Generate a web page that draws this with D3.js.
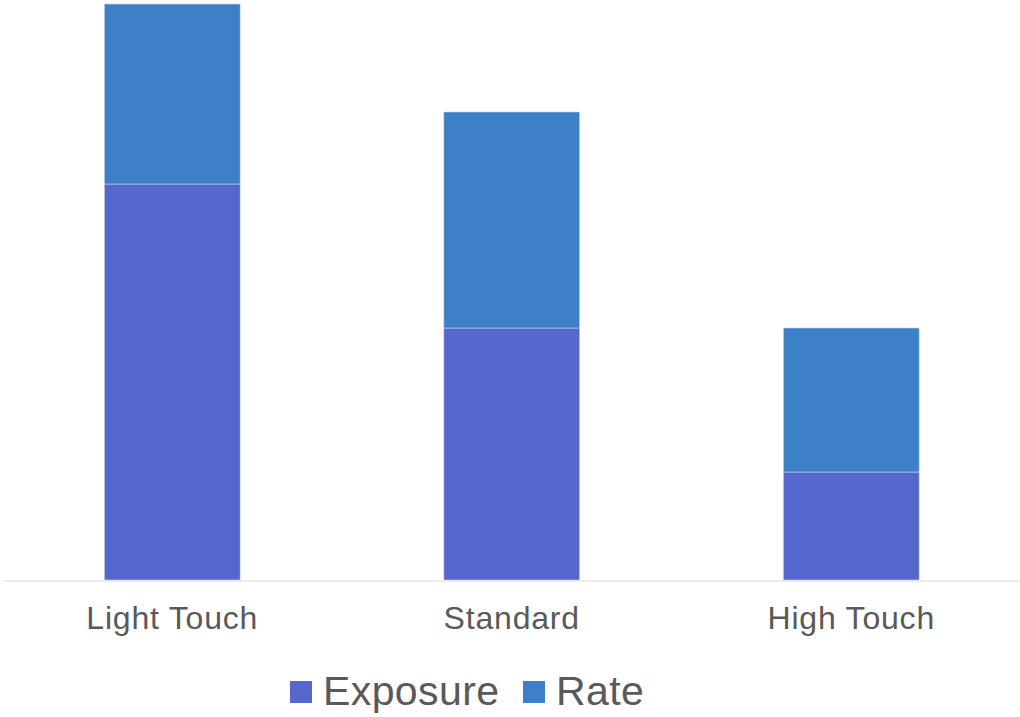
<!DOCTYPE html>
<html>
<head>
<meta charset="utf-8">
<script src="https://cdn.jsdelivr.net/npm/d3@7"></script>
<style>
  body { margin: 0; background: #fff; }
  text { font-family: "Liberation Sans", Arial, sans-serif; fill: #595959; }
</style>
</head>
<body>
<div id="chart"></div>
<script>
// data
const categories = ["Light Touch", "Standard", "High Touch"];
const seriesNames = ["Exposure", "Rate"];
const exposure = [11, 7, 3];
const rate = [5, 6, 4];

const colors = ["#5567cc", "#3e80c8"];

const width = 1020, height = 717;

const svg = d3.select("#chart").append("svg")
    .attr("width", width)
    .attr("height", height);

// scales
const x = d3.scaleBand()
    .domain(categories)
    .range([2.5, 1021])
    .paddingInner(0.6)
    .paddingOuter(0.3);

const y = d3.scaleLinear()
    .domain([0, 16])
    .range([580, 4]);

const table = categories.map((c, i) => ({ cat: c, Exposure: exposure[i], Rate: rate[i] }));
const stacked = d3.stack().keys(seriesNames)(table);

// bars
svg.selectAll("g.series")
    .data(stacked)
    .enter()
    .append("g")
    .attr("class", "series")
    .attr("fill", (d, i) => colors[i])
    .selectAll("rect")
    .data(d => d)
    .enter()
    .append("rect")
    .attr("x", d => x(d.data.cat))
    .attr("y", d => y(d[1]))
    .attr("width", x.bandwidth())
    .attr("height", d => y(d[0]) - y(d[1]))
    .attr("stroke", "#c9d6f0")
    .attr("stroke-width", 0.6);

// baseline axis
const xAxis = svg.append("g")
    .attr("transform", `translate(0, ${y(0) + 0.5})`)
    .call(d3.axisBottom(x).tickSize(0).tickPadding(26));

xAxis.select(".domain").attr("stroke", "#d9d9d9").attr("stroke-width", 1.2);
xAxis.selectAll(".tick text")
    .style("font-size", "32px")
    .style("letter-spacing", "0.8px")
    .attr("fill", "#595959");

// legend
const legend = svg.append("g").attr("transform", "translate(290, 681)");
const items = [{ name: "Exposure", x: 0 }, { name: "Rate", x: 233 }];
items.forEach((it, i) => {
    legend.append("rect")
        .attr("x", it.x)
        .attr("y", 0)
        .attr("width", 22)
        .attr("height", 22)
        .attr("fill", colors[i]);
    legend.append("text")
        .attr("x", it.x + 33)
        .attr("y", 24)
        .style("font-size", "41px")
        .style("letter-spacing", "0.4px")
        .text(it.name);
});
</script>
</body>
</html>
